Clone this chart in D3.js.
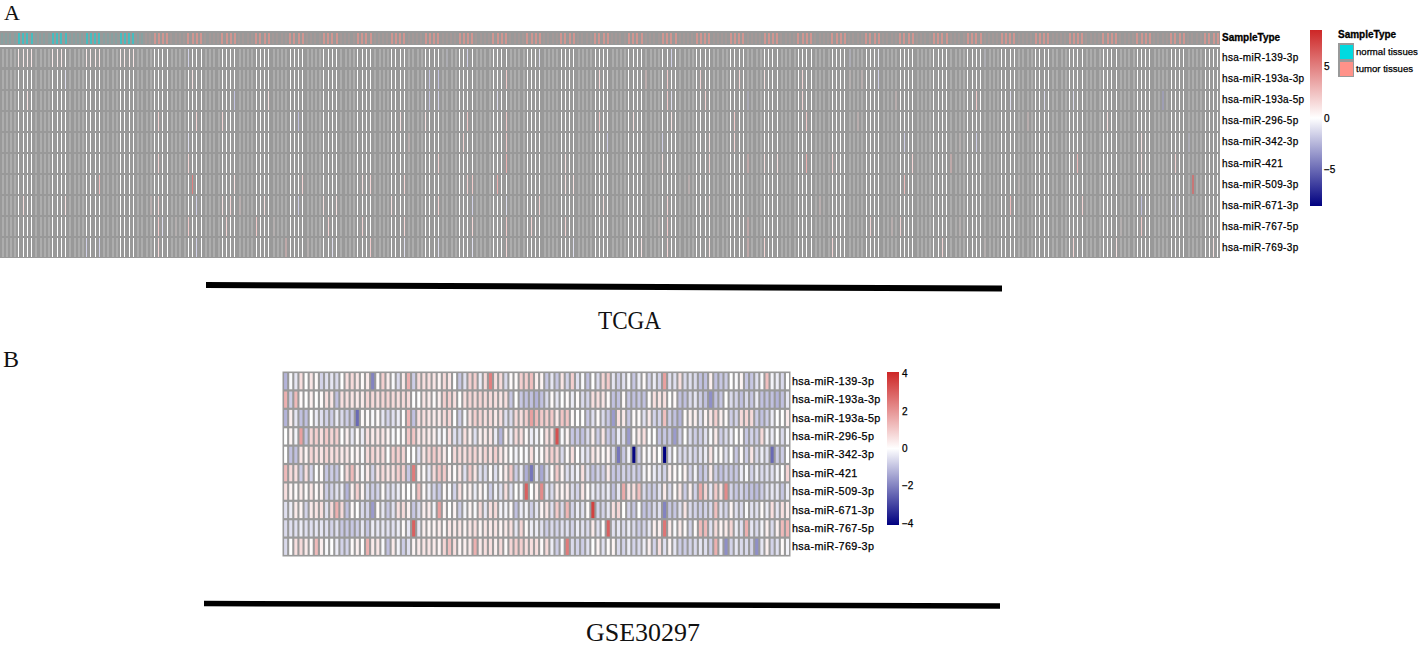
<!DOCTYPE html>
<html><head><meta charset="utf-8">
<script src="https://cdn.jsdelivr.net/npm/d3@7"></script>
<style>html,body{margin:0;padding:0;background:#fff}svg{display:block}
.lab{font-family:"Liberation Sans",Arial,sans-serif;font-size:10px;fill:#000;stroke:#000;stroke-width:.25px}
.mir{letter-spacing:.35px}
.mirB{letter-spacing:.35px;font-size:10.8px}
.ttl{font-family:"Liberation Serif",serif;fill:#111}
.soft{filter:blur(.3px)}</style></head><body>
<script>
const mirnas = ["hsa-miR-139-3p","hsa-miR-193a-3p","hsa-miR-193a-5p","hsa-miR-296-5p","hsa-miR-342-3p","hsa-miR-421","hsa-miR-509-3p","hsa-miR-671-3p","hsa-miR-767-5p","hsa-miR-769-3p"];
const sampleTypes = ["normal tissues","tumor tissues"];
const normalCount = 34, tcgaColumns = 288;
const ticksA = [5,0,-5], ticksB = [4,2,0,-2,-4];

// TCGA: [sample column, value]; samples not listed read as about 0
const tcga139 = [[4,.8],[5,.8],[6,.8],[7,.9],[12,.8],[13,.7],[14,.8],[20,.8],[21,.7],[22,.7],[23,.9],[28,.7],[29,.7],[30,.7],[31,.9],[44,-1.5],[105,-1],[110,-1.5],[127,-1],[158,-1.5],[200,-1.5],[207,-.5],[232,-1]];
const tcga193a3p = [[15,-1],[45,1],[101,-2],[103,-2],[119,2],[141,1.5],[152,2],[157,2],[165,1.5],[174,1.5],[180,1],[189,1.5],[200,1],[203,1.5],[207,-1.5]];
const tcga193a5p = [[6,1],[55,-2],[63,1],[101,-2],[103,-1.5],[117,-1],[157,2],[158,-1],[166,1.5],[176,-2],[189,1.5],[211,1.5],[230,2],[238,-1],[246,-1],[253,-1],[274,-3]];
const tcga296 = [[37,1.5],[46,1.5],[52,1.5],[70,-2],[94,1],[100,1],[110,2],[119,2],[141,2],[149,1],[158,1],[173,2],[190,2],[202,1.5],[242,1.5],[261,1]];
const tcga342 = [[44,-1],[96,1.5],[109,1.5],[119,2],[143,-1.5],[156,-1.5],[167,1],[173,1.5],[213,-1.5],[226,1],[230,-1.5],[269,1],[280,-1.5]];
const tcga421 = [[37,1.5],[44,1.5],[103,1.5],[119,3],[133,1],[156,1],[167,1.5],[176,2.5],[180,1],[183,1],[190,3],[196,1.5],[215,1.5],[224,2.5],[254,2.5],[269,1],[277,1.5]];
const tcga509 = [[23,2.5],[45,5],[55,1],[71,1.5],[85,1],[87,1.5],[95,1.5],[110,1.5],[111,2],[117,3],[133,1],[135,1],[162,1.5],[213,2.5],[240,1],[281,6]];
const tcga671 = [[5,1.2],[15,1],[35,1.5],[37,1.5],[46,-1.5],[52,1],[54,1.5],[56,1.5],[62,1],[70,-1.5],[76,1],[79,1],[92,1],[103,1.5],[111,-1.5],[119,-1],[127,1.5],[142,1],[157,1.5],[167,1],[193,1.5],[238,2.5],[255,1.5],[269,-2],[277,-1]];
const tcga767 = [[37,2],[38,-1],[41,1],[44,2],[53,1.5],[60,2],[64,1],[77,1.5],[85,1.5],[95,1.5],[111,1.5],[119,2],[125,1.5],[133,1.5],[155,1],[157,2],[176,2.5],[205,1.5],[210,1.5],[212,1.5],[226,1],[264,1],[269,2]];
const tcga769 = [[20,-1.5],[23,-1.5],[37,1.5],[46,-1.5],[67,2.5],[72,1],[78,-1],[87,2],[95,-1],[103,-1],[111,-1],[119,1.5],[135,-1],[151,1],[157,1.5],[167,1],[176,2.5],[180,1.5],[196,1.5],[222,1.5],[232,1],[253,1.5],[263,1],[286,1]];
const tcgaRows = [tcga139,tcga193a3p,tcga193a5p,tcga296,tcga342,tcga421,tcga509,tcga671,tcga767,tcga769];

// GSE30297: one value per sample
const gse139 = [-1.2,-.1,-.4,.6,0,.5,.1,-.7,-.5,-.4,-.6,0,.6,.7,.5,.1,.4,-2,.1,.9,.4,-.1,-.6,.4,1.5,-.8,.7,.6,.6,.5,.2,.7,.5,0,-.9,-.5,.9,.9,-.3,.7,2.4,.6,.7,-.6,.1,.1,.9,.9,1.2,.3,.2,-.9,-.4,-.9,.5,-.7,.9,-.5,-.1,-1,0,-.6,.8,1,-.4,-.8,-.5,-.1,-.9,-.3,.1,-.7,-.3,-.7,1.8,-.5,-.5,.6,-.6,-.5,-.6,-1,-1,.3,-1,-.9,-.8,0,-.1,.2,-.9,-.9,-.5,-.1,1.2,-.2,-.3,-.6,0];
const gse193a3p = [1.5,-.8,1.3,.1,0,.3,0,.1,.6,.5,-1,.6,.6,.5,.4,.4,.8,.7,.6,.8,.8,.7,.6,.7,.7,0,0,.5,.4,.1,.3,.9,.9,.6,0,.6,.8,.7,.8,.7,.7,.6,.5,.6,-.9,0,-.9,-1,-1,-1.2,-1,-.6,.1,-.4,0,.1,-.3,.1,-.6,-.7,.6,.6,.5,.1,-1,-1,.1,-.9,-1,-.9,-1,.1,.6,.5,.6,0,.1,-1,-1,-.6,-.4,-.8,-1,-1.8,-1,-.9,0,-.6,-.7,-1,-.6,-.9,-.3,-1,-1,-1,-1.2,-1,-.4];
const gse193a5p = [-1.2,.3,-.4,-1,-1,0,-.3,-.5,-.7,-.8,-.3,-.6,-.8,-.9,-2.4,.1,.1,-.1,.1,-.4,-.7,-.5,-.3,0,1.4,-1,.6,.6,.5,.4,.4,.7,.8,0,-.8,-.1,.6,.9,.8,.6,.7,.4,.6,-.5,-.6,.7,.6,.9,1.8,1.3,1,.9,1,.4,1.1,1.1,.1,0,0,-.9,-.5,.1,-.6,-.9,-1.6,.6,.4,-.9,.1,.1,-.5,.4,-.7,-.7,1.2,-.8,-1,-1.2,.1,.3,.3,-.5,.2,.5,.9,.3,.1,-.8,-.7,.7,.8,.7,-.8,-1,-.8,-.3,0,0,.4];
const gse296 = [0,.2,-.2,1.8,-.9,.8,.9,.6,1,.8,.9,0,.3,-.4,.1,-.3,.6,.4,.5,.5,.2,-.1,0,.1,1.1,1.1,.5,.5,.4,.3,-.2,-.1,.6,-.5,-.6,.6,.3,-.5,.3,.4,.5,-.3,-1.2,.2,-.3,.7,.6,.1,-.3,-.2,0,.6,.6,3.3,-.1,.2,-.9,-.9,-1,-.6,.3,-.8,.5,-.9,-1,-.3,-.6,-1.6,.1,.4,.6,0,0,-1,-.9,-.9,-1.6,-.8,0,-.6,-.8,-.8,-.5,-.1,.4,-.8,-.6,-.3,0,.1,-.9,-.7,-.8,.7,-.2,-.3,0,-.6,-.1];
const gse342 = [0,-1,-1,.5,.2,.8,.6,.5,.8,.6,.7,.4,.5,.1,.2,-.1,.7,.8,.6,.7,0,.9,.9,.8,0,0,-.5,.5,.8,1,.8,.4,0,.7,.7,.6,.8,.8,.5,.8,.6,.9,.5,.2,0,-.2,0,-.1,.6,-.1,.1,.6,.9,.8,-.6,.1,.6,0,-.3,-.5,.5,.3,.1,.2,-.6,-2.2,-.9,-.2,-4,-.8,.1,-.1,.2,0,-4.5,-.4,0,-.6,-.6,-.5,-.7,-.5,-.3,.5,-.1,.1,-.5,0,-.9,.1,-.8,.5,-.6,-.3,-.5,-2.4,-.8,-.8,0];
const gse421 = [1.3,.7,.6,-.8,.6,-.7,0,.1,-.9,-.8,-.9,0,.7,1.3,.4,-.1,.4,-.7,.5,.7,.5,.6,.9,.9,-.9,2.5,.2,.1,-.4,.7,1.1,1,.3,.1,.5,-.5,1,.5,-.5,-.6,.1,-.5,.1,.4,1,-.8,-.3,-1.3,-2.2,-.4,-1.4,-.6,.1,1,.2,-.5,-.4,-.2,.6,-.5,-1,-.7,-.8,.4,-.9,-.9,-.7,-.8,-.7,-.9,-.2,.1,-.3,-.5,-.7,.3,.1,0,.2,-.7,-.2,-1,-.8,.4,-.8,-1,-.8,-.9,-.9,-.3,-.1,-.7,-.3,-.6,-.5,-.5,-.2,0,.8];
const gse509 = [.6,.2,.1,.4,.1,.5,.1,.3,-.8,-.7,-.5,-.3,-1.2,.3,.9,.2,-.6,-.8,-.7,.1,-.6,-.5,-.3,.1,0,.1,1.2,.1,-.3,-.7,-.9,.1,-.1,-.7,.6,.1,.3,-.3,.2,-.1,-.8,-.2,-.5,.6,-.5,0,-.1,3,0,.3,2.2,-.4,-.6,.4,.2,.4,-.6,-.7,.5,.1,-.3,-.5,-.5,-.3,-1,-.4,1.6,.5,.6,1.2,-.6,-.8,-.8,-.5,.4,-.6,.1,.5,-.8,.3,-.7,1.6,.8,-.4,1,.5,2.2,-.7,-.9,-.7,-.9,-1,-1.1,-.8,-.5,-.4,-.4,-.9,-.3];
const gse671 = [-.5,-.3,.4,.2,-.7,.4,.5,.6,-.5,.7,1.5,.7,-1,.1,0,-.6,-.7,-1.6,.1,-.4,-.9,-.5,.6,.7,.3,-.9,-.6,.3,.4,-.2,1.8,.2,0,.2,-.8,-.2,.2,-.1,.7,-.4,.6,.7,-.2,-.2,.1,-1,-.3,-.2,-.8,-.4,.2,.5,-.5,1,-.6,1.4,-.7,-.3,-.5,.1,3.6,-.7,-.7,-.4,.6,.8,0,-.7,-.9,0,-1,-.9,-.6,-.5,-2,-.9,-.9,-.5,.5,-.6,-.7,-.8,-.7,-.6,1.2,-.5,-.7,.2,-.5,-.6,-.1,-.5,-.5,.1,-.3,.6,-.4,.6,.4];
const gse767 = [-.6,-.5,-.5,-.3,-.5,-.5,-.4,-.4,-.5,-.7,-.5,-.9,-.9,-.9,-.8,-.4,-.9,-.3,-.4,-.4,-.5,-.5,-.3,.1,-.4,3,-.4,.3,.2,.2,.4,.1,.5,.4,.5,.2,.5,.6,.2,.5,.4,.5,.2,.4,.6,-.4,.8,.1,-.3,-.3,-.5,-.8,-.6,-.7,-.5,-.5,-.7,-.3,-.5,-.6,.4,-.5,0,3,-.5,-.4,-.6,-.3,-.6,-.8,-.7,-.4,.3,.3,2.6,.4,-.1,.4,.1,-.7,.1,1.3,1.3,-.5,.7,.2,.4,.8,-.3,-.5,1.5,-.4,-.6,-.2,.3,-.6,.3,1.3,1.4];
const gse769 = [-.6,0,.6,.7,.4,.1,1.3,.3,-.1,0,-.3,-.7,-.7,.1,.3,0,1.5,.4,.5,-.1,-1,.4,-.2,-.8,-.5,.2,.4,.5,.5,.4,.2,.8,1.2,.6,.2,.3,.4,1.5,.4,.6,.6,.3,.7,.1,.8,.9,.9,.6,.6,.6,.1,.7,-.3,-.8,-.1,2.5,-.6,-.7,-.8,-.5,0,.2,-.5,.1,.2,-.6,-.7,-.3,-.7,-.6,-.3,.3,-.7,.6,-.5,.2,-.4,-.8,-.8,-.7,-.6,-.4,-.5,-.8,1.5,-.3,-1.8,-.7,-.4,-.6,-.6,-.7,-1.8,-.4,.3,-.7,-.5,.1,-.2];
const gseRows = [gse139,gse193a3p,gse193a5p,gse296,gse342,gse421,gse509,gse671,gse767,gse769];

const GREY = "#999999", NAVY = "#000080", RED = "#CD2626";
const annotColor = {"normal tissues":"#00DAE0","tumor tissues":"#FF9289"};
const limA = 8.6, limB = 4.1;
const colorA = d3.scaleLinear().domain([-limA,0,limA]).range([NAVY,"#fff",RED]).clamp(true);
const colorB = d3.scaleLinear().domain([-limB,0,limB]).range([NAVY,"#fff",RED]).clamp(true);

const svg = d3.select("body").append("svg").attr("width",1418).attr("height",646).attr("viewBox","0 0 1418 646");

// ---------- Panel A ----------
const ax = d3.scaleLinear().domain([0,tcgaColumns]).range([0,1220]);
const ay = d3.scaleBand().domain(mirnas).range([47,258]);
const A = svg.append("g").attr("shape-rendering","crispEdges").attr("class","soft");
// the dense sample grid moire: every other four columns fall clear of the cell border
const clear = i => i % 8 >= 4;

A.append("rect").attr("x",ax(0)).attr("y",31).attr("width",ax(tcgaColumns)).attr("height",14).attr("fill",GREY);
const sampleIdx = d3.range(tcgaColumns);
A.append("g").selectAll("rect").data(sampleIdx).join("rect")
  .attr("x",i=>Math.round(ax(i)+1)).attr("y",33).attr("height",10.5)
  .attr("width",2)
  .attr("fill",i=>annotColor[i<normalCount?sampleTypes[0]:sampleTypes[1]])
  .attr("opacity",i=>clear(i)?.55:.12);

A.append("rect").attr("x",ax(0)).attr("y",ay.range()[0]).attr("width",ax(tcgaColumns)).attr("height",ay.range()[1]-ay.range()[0]).attr("fill",GREY);
tcgaRows.forEach((sparse,r)=>{
  const vals = new Map(sparse);
  const cells = sampleIdx.map(i=>({i,v:vals.get(i)||0}));
  A.append("g").selectAll("rect").data(cells).join("rect")
    .attr("x",d=>Math.round(ax(d.i)+1.5))
    .attr("y",ay(mirnas[r])+1.5).attr("height",ay.bandwidth()-2.2)
    .attr("width",d=>clear(d.i)?1:2)
    .attr("fill",d=>colorA(d.v))
    .attr("opacity",d=>clear(d.i)?1:Math.min(.7,.2+Math.abs(d.v)*.09));
});
svg.append("g").selectAll("text").data(mirnas).join("text").attr("class","lab mir")
  .attr("x",1222).attr("y",d=>ay(d)+ay.bandwidth()/2+3.5).text(d=>d);
svg.append("text").attr("class","lab").attr("x",1222).attr("y",41).attr("font-weight","bold").style("stroke-width",".3px").text("SampleType");

// colour bar A
const defs = svg.append("defs");
function gradient(id,scale,lim){
  const g = defs.append("linearGradient").attr("id",id).attr("x1",0).attr("x2",0).attr("y1",0).attr("y2",1);
  [lim,0,-lim].forEach((v,k)=>g.append("stop").attr("offset",k/2).attr("stop-color",scale(v)));
}
gradient("gA",colorA,limA); gradient("gB",colorB,limB);
const barA = d3.scaleLinear().domain([limA,-limA]).range([30,206]);
svg.append("rect").attr("x",1310).attr("y",barA(limA)).attr("width",12).attr("height",barA(-limA)-barA(limA)).attr("fill","url(#gA)");
svg.append("g").selectAll("text").data(ticksA).join("text").attr("class","lab")
  .attr("x",1324).attr("y",d=>barA(d)+3.5).text(d=>d<0?"\u2212"+(-d):d);

// legend
svg.append("text").attr("class","lab").attr("x",1338).attr("y",38).attr("font-weight","bold").style("stroke-width",".3px").text("SampleType");
const lg = svg.append("g").attr("shape-rendering","crispEdges");
lg.append("rect").attr("x",1338).attr("y",43).attr("width",16).attr("height",34).attr("fill",GREY);
const ly = d3.scaleBand().domain(sampleTypes).range([43,77]);
lg.selectAll(".sw").data(sampleTypes).join("rect").attr("class","sw")
  .attr("x",1340).attr("y",d=>ly(d)+1.5).attr("width",12.5).attr("height",ly.bandwidth()-2.5).attr("fill",d=>annotColor[d]);
svg.append("g").selectAll("text").data(sampleTypes).join("text").attr("class","lab").style("font-size","9.6px")
  .attr("x",1356).attr("y",d=>ly(d)+ly.bandwidth()/2+3.5).text(d=>d);

// ---------- Panel B ----------
const bx = d3.scaleBand().domain(d3.range(gse139.length)).range([283,790]);
const by = d3.scaleBand().domain(mirnas).range([372,556]);
const B = svg.append("g").attr("class","soft");
B.append("rect").attr("x",282.5).attr("y",371.5).attr("width",508).attr("height",185).attr("fill",GREY);
gseRows.forEach((vals,r)=>{
  B.append("g").selectAll("rect").data(vals).join("rect")
    .attr("x",(d,i)=>bx(i)+1.1).attr("width",bx.bandwidth()-2.1)
    .attr("y",by(mirnas[r])+1.1).attr("height",by.bandwidth()-2.2)
    .attr("fill",d=>colorB(d));
});
svg.append("g").selectAll("text").data(mirnas).join("text").attr("class","lab mirB")
  .attr("x",792).attr("y",d=>by(d)+by.bandwidth()/2+3.5).text(d=>d);
const barB = d3.scaleLinear().domain([limB,-limB]).range([372,525]);
svg.append("rect").attr("x",887).attr("y",372).attr("width",12).attr("height",153).attr("fill","url(#gB)");
svg.append("g").selectAll("text").data(ticksB).join("text").attr("class","lab")
  .attr("x",902).attr("y",d=>barB(d)+3.5).text(d=>d<0?"\u2212"+(-d):d);

// ---------- Titles and rules ----------
svg.append("text").attr("class","ttl").attr("x",4).attr("y",20).attr("font-size",22).text("A");
svg.append("text").attr("class","ttl").attr("x",3).attr("y",367).attr("font-size",24).text("B");
svg.append("text").attr("class","ttl").attr("x",598).attr("y",329).attr("font-size",26).attr("textLength",63).attr("lengthAdjust","spacingAndGlyphs").text("TCGA");
svg.append("text").attr("class","ttl").attr("x",586).attr("y",640.5).attr("font-size",25).attr("textLength",114).attr("lengthAdjust","spacingAndGlyphs").text("GSE30297");
svg.append("line").attr("x1",206).attr("y1",285).attr("x2",1002).attr("y2",288.5).attr("stroke","#000").attr("stroke-width",6);
svg.append("line").attr("x1",204).attr("y1",603.5).attr("x2",1000).attr("y2",606).attr("stroke","#000").attr("stroke-width",5.5);
</script></body></html>
